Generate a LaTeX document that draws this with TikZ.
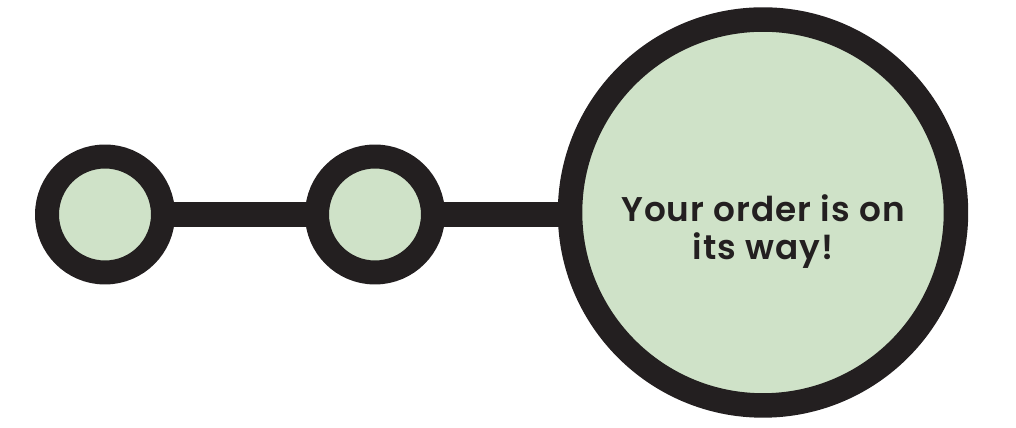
\documentclass[tikz,border=0pt]{standalone}
\usepackage{fontspec}
\newfontfamily\stopfont{Poppins SemiBold}[LetterSpace=3]
\definecolor{stopgreen}{RGB}{207,226,200}
\definecolor{stopink}{RGB}{35,31,32}
\tikzset{
  smallstop/.style={circle, draw=stopink, fill=stopgreen, line width=0.48cm, minimum size=2.32cm, inner sep=0pt, outer sep=0pt},
  bigstop/.style={circle, draw=stopink, fill=stopgreen, line width=0.49cm, minimum size=7.72cm, inner sep=0pt, outer sep=0pt},
  track/.style={draw=stopink, line width=0.5cm}
}

\begin{document}
\begin{tikzpicture}[x=0.02cm,y=0.02cm]
		\useasboundingbox (0,0) rectangle (1016,428);
		% stops along the route
		\node[smallstop] (first) at (105,213.5) {};
		\node[smallstop] (second) at (375,213.5) {};
		\node[bigstop] (last) at (763,215.5) {};
		% track between the stops
		\draw[track] (first.east) -- (second.west);
		\draw[track] (second.east) -- (last.west |- second.east);
		% message
		\node[text=stopink, align=center, font=\stopfont\fontsize{19.5}{21.6}\selectfont] (msg) at (763,196) {Your order is on\\its way!};
	\end{tikzpicture}
\end{document}
